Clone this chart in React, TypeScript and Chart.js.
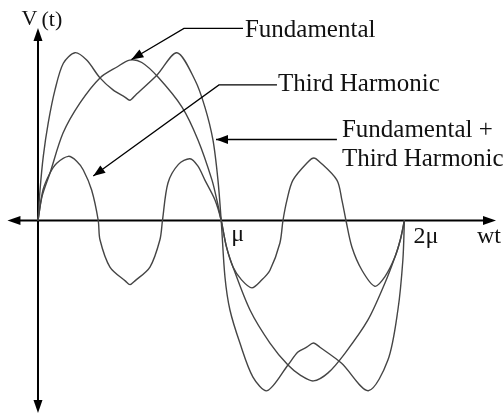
import React, { useEffect, useRef } from 'react';
import { Chart, registerables } from 'chart.js';

Chart.register(...registerables);

// x in electrical degrees (μ = 180°, 2μ = 360°), y in units of the fundamental amplitude
const FUND_X = [0, 4, 11.8, 24.6, 41.3, 60.9, 77.6, 90, 102, 117.9, 141.5, 157.2, 170.9, 176, 180,
  185, 191.6, 208.3, 227.9, 245.6, 258, 270.6, 285, 301.6, 324.2, 340.9, 350.7, 356, 360];
const FUND_Y = [0, 0.15, 0.296, 0.545, 0.733, 0.889, 0.957, 1.0, 0.985, 0.894, 0.707, 0.502, 0.253, 0.12, 0,
  -0.16, -0.29, -0.558, -0.764, -0.901, -0.965, -1.0, -0.95, -0.828, -0.62, -0.39, -0.228, -0.12, 0];

const THIRD_X = [0, 4.9, 11.8, 18.4, 29.8, 38, 44.5, 52.7, 59.2,
  60.9, 70.7, 86, 90.4, 95, 110, 119.8, 122.3,
  127.7, 138, 149.3, 157, 164, 173.9, 180,
  185, 191.6, 200, 210.2, 220, 227.9, 237.7, 240.7,
  244.6, 250.5, 266, 271, 276, 293.7, 298.6, 302.6,
  308.4, 318.3, 331, 340.9, 350.7, 356, 360];
const THIRD_Y = [0, 0.19, 0.296, 0.357, 0.40, 0.37, 0.315, 0.19, 0,
  -0.12, -0.29, -0.378, -0.40, -0.378, -0.29, -0.12, 0,
  0.234, 0.35, 0.385, 0.34, 0.252, 0.128, 0,
  -0.16, -0.29, -0.37, -0.42, -0.37, -0.31, -0.14, 0,
  0.127, 0.252, 0.37, 0.39, 0.37, 0.252, 0.127, 0,
  -0.165, -0.31, -0.41, -0.35, -0.228, -0.12, 0];

const SUM_X = [0, 2, 5.2, 10.1, 16.7, 24.9, 36.3, 47.8, 60.9, 73.7, 85, 90.4, 96, 117, 136.5, 154.2, 164, 171.9, 176.8, 180,
  183.7, 188.6, 198.4, 211.2, 225.2, 245.6, 255.4, 264, 270.6, 277, 298.3, 324.5, 343.8, 353.6, 358.5, 360];
const SUM_Y = [0, 0.19, 0.40, 0.61, 0.814, 0.98, 1.046, 1.0, 0.889, 0.814, 0.771, 0.75, 0.783, 0.907, 1.046, 0.876, 0.707, 0.502, 0.253, 0,
  -0.352, -0.558, -0.764, -0.976, -1.061, -0.901, -0.82, -0.79, -0.764, -0.79, -0.89, -1.061, -0.87, -0.558, -0.246, 0];

const TICK_VALUES = [180, 360];
const TICK_LABELS = ['μ', '2μ'];
const X_AXIS_LABEL = 'wt';
const Y_AXIS_LABEL = ['V', '(t)'];

const X_MIN = -30;
const X_MAX = 450;
const Y_MIN = -1.2;
const Y_MAX = 1.2;

const CURVE_COLOR = '#454545';
const FONT_FAMILY = '"Liberation Serif", "Times New Roman", serif';

// callouts: label anchor and leader path in data units (deg, amplitude); last point is the arrow tip
const CALLOUTS = [
  { lines: ['Fundamental'], text: [203.3, 1.147], path: [[201.4, 1.198], [143.4, 1.198], [91.8, 1.004]] },
  { lines: ['Third Harmonic'], text: [235.8, 0.807], path: [[234.8, 0.845], [177.8, 0.845], [54.3, 0.277]] },
  { lines: ['Fundamental +', 'Third Harmonic'], text: [298.6, 0.521], path: [[293.7, 0.505], [174.9, 0.505]] },
];

const toPoints = (xs: number[], ys: number[]) => xs.map((x, i) => ({ x, y: ys[i] }));

function arrowHead(ctx: CanvasRenderingContext2D, fx: number, fy: number, tx: number, ty: number, len: number, half: number) {
  const a = Math.atan2(ty - fy, tx - fx);
  const bx = tx - Math.cos(a) * len;
  const by = ty - Math.sin(a) * len;
  const nx = -Math.sin(a) * half;
  const ny = Math.cos(a) * half;
  ctx.beginPath();
  ctx.moveTo(tx, ty);
  ctx.lineTo(bx + nx, by + ny);
  ctx.lineTo(bx - nx, by - ny);
  ctx.closePath();
  ctx.fill();
}

const axesPlugin = {
  id: 'diagramAxes',
  beforeDatasetsDraw(chart: any) {
    const { ctx, scales } = chart;
    const xs = scales.x;
    const ys = scales.y;
    const x0 = xs.getPixelForValue(0);
    const y0 = ys.getPixelForValue(0);
    const left = xs.getPixelForValue(X_MIN);
    const right = xs.getPixelForValue(X_MAX);
    const top = ys.getPixelForValue(Y_MAX);
    const bottom = ys.getPixelForValue(Y_MIN);
    ctx.save();
    ctx.strokeStyle = '#000';
    ctx.fillStyle = '#000';
    ctx.lineWidth = 2;
    ctx.beginPath();
    ctx.moveTo(left + 6, y0);
    ctx.lineTo(right - 6, y0);
    ctx.moveTo(x0, top + 6);
    ctx.lineTo(x0, bottom - 6);
    ctx.stroke();
    arrowHead(ctx, right - 20, y0, right, y0, 13, 4.5);
    arrowHead(ctx, left + 20, y0, left, y0, 13, 4.5);
    arrowHead(ctx, x0, top + 20, x0, top, 13, 4.5);
    arrowHead(ctx, x0, bottom - 20, x0, bottom, 13, 4.5);
    ctx.restore();
  },
  afterDatasetsDraw(chart: any) {
    const { ctx, scales } = chart;
    const xs = scales.x;
    const ys = scales.y;
    const px = (v: number) => xs.getPixelForValue(v);
    const py = (v: number) => ys.getPixelForValue(v);
    const x0 = px(0);
    const y0 = py(0);
    ctx.save();
    ctx.fillStyle = '#111';
    ctx.textAlign = 'left';
    ctx.textBaseline = 'alphabetic';
    ctx.font = `24px ${FONT_FAMILY}`;
    // tick labels
    ctx.fillText(TICK_LABELS[0], px(TICK_VALUES[0]) + 10, y0 + 20);
    ctx.fillText(TICK_LABELS[1], px(TICK_VALUES[1]) + 9, y0 + 22.5);
    ctx.fillText(X_AXIS_LABEL, px(X_MAX) - 19, y0 + 22.5);
    // y axis label
    ctx.font = `22px ${FONT_FAMILY}`;
    ctx.fillText(Y_AXIS_LABEL[0], x0 - 16.5, py(Y_MAX) - 3);
    ctx.fillText(Y_AXIS_LABEL[1], x0 + 3.5, py(Y_MAX) - 2);
    // callouts
    ctx.font = `25px ${FONT_FAMILY}`;
    ctx.strokeStyle = '#000';
    ctx.fillStyle = '#000';
    ctx.lineWidth = 1.3;
    CALLOUTS.forEach((c) => {
      const pts = c.path.map(([a, b]) => [px(a), py(b)]);
      ctx.beginPath();
      ctx.moveTo(pts[0][0], pts[0][1]);
      for (let i = 1; i < pts.length; i++) ctx.lineTo(pts[i][0], pts[i][1]);
      ctx.stroke();
      const n = pts.length;
      arrowHead(ctx, pts[n - 2][0], pts[n - 2][1], pts[n - 1][0], pts[n - 1][1], 12, 4.5);
      ctx.fillStyle = '#111';
      c.lines.forEach((line, i) => {
        ctx.fillText(line, px(c.text[0]), py(c.text[1]) + i * 29);
      });
      ctx.fillStyle = '#000';
    });
    ctx.restore();
  },
};

export default function App() {
  const canvasRef = useRef<HTMLCanvasElement | null>(null);
  useEffect(() => {
    if (!canvasRef.current) return;
    const mk = (label: string, xs: number[], ys: number[]) => ({
      label,
      data: toPoints(xs, ys),
      borderColor: CURVE_COLOR,
      borderWidth: 1.4,
      pointRadius: 0,
      fill: false,
      tension: 0.3,
    });
    const chart = new Chart(canvasRef.current, {
      type: 'line',
      data: {
        datasets: [
          mk('Fundamental', FUND_X, FUND_Y),
          mk('Third Harmonic', THIRD_X, THIRD_Y),
          mk('Fundamental + Third Harmonic', SUM_X, SUM_Y),
        ],
      },
      options: {
        responsive: false,
        animation: false,
        devicePixelRatio: 1,
        layout: { padding: { left: 7.46, right: 8, top: 28, bottom: 2 } },
        scales: {
          x: { type: 'linear', min: X_MIN, max: X_MAX, display: false },
          y: { type: 'linear', min: Y_MIN, max: Y_MAX, display: false },
        },
        plugins: { legend: { display: false }, tooltip: { enabled: false } },
      },
      plugins: [axesPlugin],
    });
    return () => chart.destroy();
  }, []);
  return (
    <div style={{ position: 'fixed', left: 0, top: 0, width: 504, height: 415, background: '#fff' }}>
      <canvas ref={canvasRef} width={504} height={415} style={{ width: 504, height: 415, display: 'block' }} />
    </div>
  );
}
